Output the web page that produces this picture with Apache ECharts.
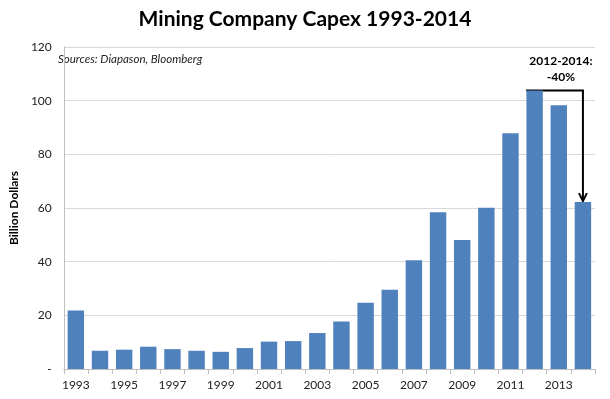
<!DOCTYPE html>
<html>
<head>
<meta charset="utf-8">
<script src="https://cdn.jsdelivr.net/npm/echarts@6/dist/echarts.min.js"></script>
<style>
  html, body { margin: 0; padding: 0; background: #fff; }
  #chart { width: 610px; height: 399px; }
</style>
</head>
<body>
<div id="chart"></div>
<script>
// capex by year, billion dollars
const years = ['1993', '1994', '1995', '1996', '1997', '1998', '1999', '2000', '2001', '2002', '2003',
  '2004', '2005', '2006', '2007', '2008', '2009', '2010', '2011', '2012', '2013', '2014'];
const capex = [21.8, 6.8, 7.2, 8.3, 7.4, 6.8, 6.4, 7.8, 10.2, 10.4, 13.4,
  17.7, 24.7, 29.5, 40.5, 58.4, 48.1, 60.1, 87.9, 103.8, 98.3, 62.2];
const yTicks = [0, 20, 40, 60, 80, 100, 120];

const fontFamily = 'Lato, "Open Sans", sans-serif';

const chart = echarts.init(document.getElementById('chart'));

chart.setOption({
  animation: false,
  title: {
    text: 'Mining Company Capex 1993-2014',
    left: 'center',
    top: 4,
    textStyle: { fontFamily: fontFamily, fontSize: 21, fontWeight: 'bold', color: '#000' }
  },
  grid: { left: 48, right: 15, top: 47, bottom: 30 },
  xAxis: {
    type: 'category',
    data: years,
    axisLine: { lineStyle: { color: '#bfbfbf' } },
    axisTick: { show: true, interval: 0, lineStyle: { color: '#bfbfbf' } },
    axisLabel: { interval: 1, color: '#222', fontFamily: fontFamily, fontSize: 12, margin: 10 }
  },
  yAxis: {
    type: 'value',
    min: 0,
    max: 120,
    interval: 20,
    name: 'Billion Dollars',
    nameLocation: 'middle',
    nameGap: 34,
    nameTextStyle: { fontFamily: fontFamily, fontSize: 12, fontWeight: 'bold', color: '#000' },
    axisLine: { show: true, lineStyle: { color: '#bfbfbf' } },
    axisTick: { show: false },
    splitLine: { lineStyle: { color: '#d9d9d9' } },
    axisLabel: {
      color: '#222', fontFamily: fontFamily, fontSize: 12, margin: 12,
      formatter: v => (v === yTicks[0] ? '-' : String(v))
    }
  },
  series: [{
    type: 'bar',
    data: capex,
    barCategoryGap: '32%',
    itemStyle: { color: '#4f81bd' }
  }]
});

// annotation: drop from 2012 peak to 2014
const peak = capex[years.indexOf('2012')];
const last = capex[years.indexOf('2014')];
const pPeak = chart.convertToPixel({ seriesIndex: 0 }, ['2012', peak]);
const pLast = chart.convertToPixel({ seriesIndex: 0 }, ['2014', last]);
const halfBar = 8.5;
const pct = Math.round((last / peak - 1) * 100);

chart.setOption({
  graphic: [
    {
      type: 'text',
      left: 58, top: 53,
      style: { text: 'Sources: Diapason, Bloomberg', font: 'italic 11.5px ' + fontFamily, fill: '#222' }
    },
    {
      type: 'line',
      shape: { x1: pPeak[0] - halfBar, y1: pPeak[1], x2: pLast[0] + 1, y2: pPeak[1] },
      style: { stroke: '#000', lineWidth: 2 }
    },
    {
      type: 'line',
      shape: { x1: pLast[0], y1: pPeak[1], x2: pLast[0], y2: pLast[1] - 1 },
      style: { stroke: '#000', lineWidth: 2 }
    },
    {
      type: 'polyline',
      shape: { points: [[pLast[0] - 4, pLast[1] - 9], [pLast[0], pLast[1] - 1], [pLast[0] + 4, pLast[1] - 9]] },
      style: { stroke: '#000', lineWidth: 2, fill: null }
    },
    {
      type: 'text',
      x: pLast[0] - 22, y: 53,
      style: {
        text: '2012-2014:\n' + pct + '%',
        font: 'bold 12px ' + fontFamily,
        fill: '#000',
        align: 'center',
        lineHeight: 16
      }
    }
  ]
});
</script>
</body>
</html>
